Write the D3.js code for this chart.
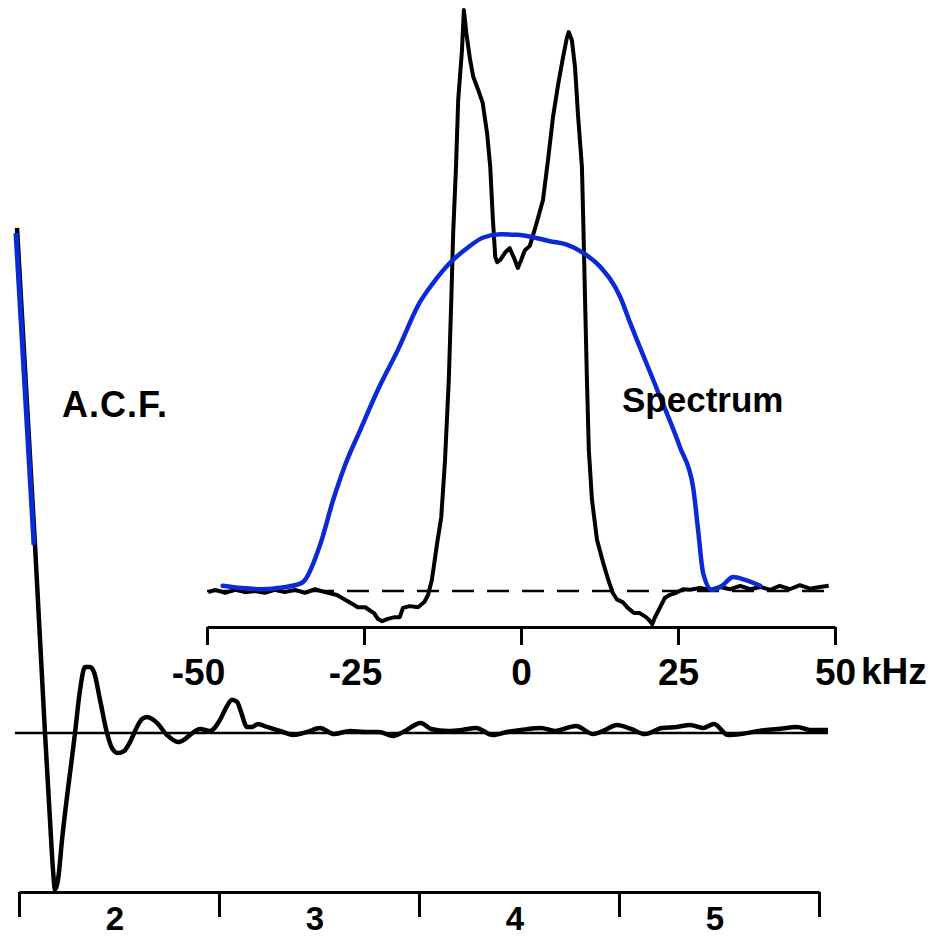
<!DOCTYPE html>
<html>
<head>
<meta charset="utf-8">
<script src="https://cdn.jsdelivr.net/npm/d3@7"></script>
<style>
  body { margin: 0; background: #fff; }
  text { font-family: "Liberation Sans", Arial, sans-serif; font-weight: bold; fill: #000; }
</style>
</head>
<body>
<script>
// measured spectrum (kHz, relative power)
var specFreq = [-49.8,-48.7,-47.1,-45.5,-43.9,-42.4,-40.8,-39.2,-37.6,-36.0,-34.4,-32.8,-31.2,-29.3,-28.0,-26.9,-26.0,-24.8,-24.0,-23.4,-22.8,-22.1,-21.2,-20.1,-19.3,-18.8,-17.7,-16.4,-15.4,-14.8,-14.2,-13.9,-13.4,-12.7,-12.1,-11.5,-11.1,-10.8,-10.35,-10.0,-9.4,-9.1,-8.7,-8.1,-7.6,-6.8,-6.1,-5.4,-4.9,-4.5,-4.1,-3.8,-3.3,-2.5,-1.8,-1.1,-0.5,0.0,0.6,1.4,2.4,3.5,4.3,5.1,5.9,6.7,7.3,7.6,8.1,8.6,9.1,9.7,9.9,10.2,10.5,10.8,11.3,12.1,13.1,13.9,14.6,15.3,16.2,17.0,18.0,18.9,19.9,20.4,20.9,21.3,22.1,22.9,23.6,24.7,25.8,26.9,28.5,30.1,31.7,33.3,34.9,36.5,38.1,39.7,41.2,42.8,44.4,46.0,47.6,49.0];
var specPower = [-0.2,0.2,-0.3,0.2,-0.2,0.0,-0.3,0.2,-0.2,0.2,-0.3,0.3,-0.2,-0.7,-1.5,-2.2,-2.8,-2.8,-3.4,-3.8,-4.8,-5.2,-4.8,-4.5,-4.5,-2.9,-2.6,-2.8,-1.9,-0.7,1.9,4.1,7.9,12.7,22.5,36.3,50.1,61.6,73.0,84.5,93.1,100,96.0,91.4,88.5,86.2,84.0,78.8,73.0,64.4,57.5,56.6,57.0,58.3,59.0,57.3,55.6,56.9,58.6,59.4,63.0,67.3,74.2,81.6,87.1,91.9,95.2,96.2,94.8,90.2,81.6,73.0,64.4,50.1,36.3,24.3,15.7,8.8,4.8,1.9,-0.3,-1.5,-1.9,-2.9,-3.8,-3.8,-4.5,-5.0,-5.7,-4.6,-2.9,-1.2,-0.7,-0.3,0.3,0.2,0.5,0.2,0.7,0.3,0.9,0.3,0.7,0.2,0.9,0.3,1.0,0.4,0.7,0.9];

// blue overlay on the spectrum
var fitFreq = [-47.5,-44.5,-41.2,-38.0,-34.9,-34.4,-32.0,-29.9,-28.0,-25.6,-22.8,-19.6,-16.1,-14.0,-11.3,-8.6,-6.1,-3.3,-0.6,1.9,4.6,7.3,9.9,12.6,15.8,17.4,21.7,25.3,27.4,28.2,29.0,30.4,32.0,33.8,35.7,38.1];
var fitPower = [0.9,0.5,0.3,0.6,1.4,1.9,7.9,15.7,21.7,27.7,34.6,41.5,49.7,53.0,56.5,59.0,60.8,61.4,61.3,60.9,60.2,59.6,58.2,55.8,50.6,46.1,34.6,24.8,17.9,10.5,3.1,0.2,0.9,2.4,1.9,0.9];

var specTicks = [-50, -25, 0, 25, 50];

// auto-correlation function (lag in axis units, normalised value)
var acfLag = [1.49,1.58,1.63,1.655,1.67,1.68,1.695,1.715,1.78,1.805,1.83,1.855,1.875,1.905,1.94,1.965,1.995,2.025,2.055,2.09,2.115,2.14,2.165,2.19,2.24,2.295,2.33,2.355,2.405,2.455,2.505,2.535,2.565,2.59,2.61,2.64,2.665,2.695,2.74,2.82,2.87,2.94,3.005,3.075,3.155,3.23,3.3,3.37,3.42,3.51,3.56,3.645,3.715,3.785,3.87,3.94,4.01,4.11,4.18,4.285,4.37,4.43,4.49,4.56,4.63,4.715,4.79,4.855,4.92,4.975,5.045,5.11,5.2,5.295,5.39,5.455,5.545];
var acfValue = [1.004,0.374,0,-0.173,-0.272,-0.312,-0.292,-0.213,0,0.085,0.131,0.131,0.121,0.066,0,-0.030,-0.040,-0.036,-0.018,0.012,0.028,0.032,0.028,0.020,-0.004,-0.018,-0.012,-0.004,0.008,0.004,0.026,0.050,0.066,0.062,0.042,0.012,0.012,0.018,0.012,0.002,-0.004,0.002,0.010,-0.002,0.004,0.002,0.002,-0.006,0.002,0.020,0.008,0.004,0.006,0.010,-0.004,0.002,0.006,0.010,0.004,0.014,-0.002,0.006,0.016,0.008,-0.002,0.010,0.012,0.016,0.010,0.018,-0.004,-0.002,0.004,0.008,0.012,0.006,0.006];

// blue overlay on the ACF
var acfFitLag = [1.485, 1.575];
var acfFitValue = [0.994, 0.374];

var acfTicks = [1.5, 2.5, 3.5, 4.5, 5.5];
var acfLabels = [2, 3, 4, 5];

var W = 933, H = 937;
var BLUE = "#0a2ad6";

var svg = d3.select("body").append("svg")
	.attr("width", W)
	.attr("height", H);

var fx = d3.scaleLinear().domain([-50, 50]).range([207, 835]);
var fy = d3.scaleLinear().domain([0, 100]).range([591, 10]);
var lx = d3.scaleLinear().domain([1.5, 5.5]).range([19, 819]);
var ly = d3.scaleLinear().domain([0, 1]).range([733, 230]);

var zip = function(a, b){
	return a.map(function(d, i){ return [d, b[i]]; });
}

// ---- ACF panel ----
svg.append("line")
	.attr("x1", lx(1.48)).attr("x2", lx(5.545))
	.attr("y1", ly(0)).attr("y2", ly(0))
	.attr("stroke", "#000").attr("stroke-width", 2.5);

var acfLine = d3.line()
	.x(function(d){ return lx(d[0]); })
	.y(function(d){ return ly(d[1]); })
	.curve(d3.curveMonotoneX);

svg.append("path")
	.attr("d", acfLine(zip(acfLag, acfValue)))
	.attr("fill", "none").attr("stroke", "#000")
	.attr("stroke-width", 4.5).attr("stroke-linejoin", "round");

svg.append("path")
	.attr("d", d3.line().x(function(d){ return lx(d[0]); }).y(function(d){ return ly(d[1]); })(zip(acfFitLag, acfFitValue)))
	.attr("fill", "none").attr("stroke", BLUE).attr("stroke-width", 5);

var acfAxis = d3.axisBottom(lx).tickValues(acfTicks).tickSize(25).tickSizeOuter(0).tickFormat("");
var ga = svg.append("g").attr("transform", "translate(0,892)").call(acfAxis);
ga.select(".domain").attr("stroke-width", 3);
ga.selectAll(".tick line").attr("stroke-width", 3);

svg.append("g").selectAll("text")
	.data(acfLabels).enter().append("text")
	.attr("x", function(d){ return lx(d) - 4; })
	.attr("y", 930)
	.attr("text-anchor", "middle")
	.attr("font-size", 33)
	.text(function(d){ return d; });

svg.append("text")
	.attr("x", 62).attr("y", 417)
	.attr("font-size", 36)
	.attr("letter-spacing", 1)
	.text("A.C.F.");

// ---- spectrum panel ----
svg.append("line")
	.attr("x1", fx(-50)).attr("x2", fx(50))
	.attr("y1", fy(0)).attr("y2", fy(0))
	.attr("stroke", "#000").attr("stroke-width", 2.5)
	.attr("stroke-dasharray", "22,13");

var specLine = d3.line()
	.x(function(d){ return fx(d[0]); })
	.y(function(d){ return fy(d[1]); });

svg.append("path")
	.attr("d", specLine(zip(specFreq, specPower)))
	.attr("fill", "none").attr("stroke", "#000")
	.attr("stroke-width", 4).attr("stroke-linejoin", "round");

svg.append("path")
	.attr("d", specLine.curve(d3.curveMonotoneX)(zip(fitFreq, fitPower)))
	.attr("fill", "none").attr("stroke", BLUE)
	.attr("stroke-width", 4.5).attr("stroke-linecap", "round");

var specAxis = d3.axisBottom(fx)
	.tickValues(specTicks)
	.tickSize(18).tickSizeOuter(0).tickPadding(14)
	.tickFormat(function(d){ return d < 0 ? "-" + Math.abs(d) : d; });
var gs = svg.append("g").attr("transform", "translate(0,627)").call(specAxis);
gs.select(".domain").attr("stroke-width", 3);
gs.selectAll(".tick line").attr("stroke-width", 3);
gs.selectAll(".tick text")
	.attr("font-size", 37)
	.attr("font-family", "Liberation Sans, Arial, sans-serif")
	.attr("font-weight", "bold")
	.attr("dx", function(d){ return d < 0 ? -9 : 0; });

svg.append("text")
	.attr("x", fx(50) + 26).attr("y", 684)
	.attr("font-size", 37)
	.text("kHz");

svg.append("text")
	.attr("x", 622).attr("y", 412)
	.attr("font-size", 35)
	.text("Spectrum");
</script>
</body>
</html>
